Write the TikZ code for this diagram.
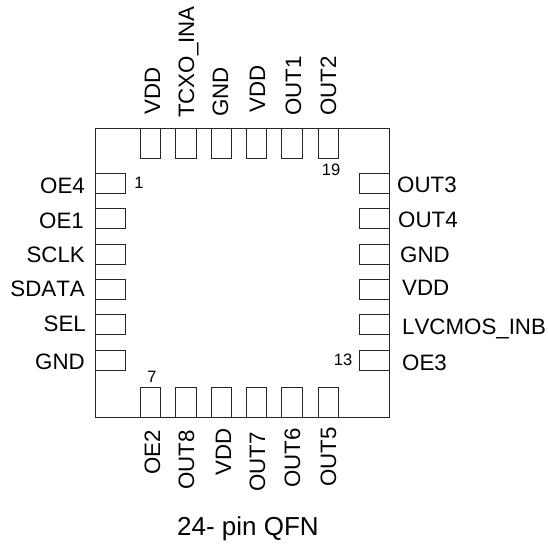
\documentclass[tikz,border=0pt]{standalone}
\usepackage{fontspec}
\setmainfont[Kerning=Off]{Liberation Sans}
\begin{document}
\begin{tikzpicture}[x=1pt,y=-1pt,
 outline/.style={draw=black!85,line width=0.9pt},
 pinbox/.style={draw=black!85,line width=0.8pt},
 lab/.style={font=\fontsize{22.3}{25}\selectfont,inner sep=0pt,text=black},
 small/.style={font=\fontsize{16.5}{19}\selectfont,inner sep=0pt,text=black}]
\useasboundingbox (0,0) rectangle (548,546);
\draw[outline] (95,128) rectangle (389,417);
% left pins
\foreach \y in {173,208,244,279,314,350}{\draw[pinbox] (95,\y) rectangle ++(30,20);}
\foreach \x/\y/\t/\n in {85/185/OE4/l1,84/220/OE1/l2,85/254/SCLK/l3,85/288/SDATA/l4,86/323/SEL/l5,85/361/GND/l6}{
  \node[lab,anchor=base east] (\n) at (\x,\y+8) {\t};
}
% right pins
\foreach \y in {173,208,244,279,314,350}{\draw[pinbox] (359,\y) rectangle ++(30,20);}
\foreach \x/\y/\t/\n in {397/184/OUT3/r1,398/219/OUT4/r2,400/254/GND/r3,402/287/VDD/r4,402/326/LVCMOS\_INB/r5,402/362/OE3/r6}{
  \node[lab,anchor=base west] (\n) at (\x,\y+8) {\t};
}
% top pins
\foreach \x in {140,175.5,211,246,281.5,318}{\draw[pinbox] (\x,128) rectangle ++(20.5,30);}
\foreach \x/\y/\t/\n in {152/115/VDD/t1,186/118/TCXO\_INA/t2,220/117/GND/t3,257/113/VDD/t4,293/116/OUT1/t5,328/116/OUT2/t6}{
  \node[lab,rotate=90,anchor=base west] (\n) at (\x+8,\y) {\t};
}
% bottom pins
\foreach \x in {140,175.5,211,246,281.5,318}{\draw[pinbox] (\x,387) rectangle ++(20.5,30);}
\foreach \x/\y/\t/\n in {152/430/OE2/b1,186/430/OUT8/b2,223/428/VDD/b3,257/432/OUT7/b4,292/428/OUT6/b5,328/427/OUT5/b6}{
  \node[lab,rotate=90,anchor=base east] (\n) at (\x+8,\y) {\t};
}
\node[small] (n1) at (139,183) {1};
\node[small] (n7) at (152,377) {7};
\node[small] (n13) at (343,360) {13};
\node[small] (n19) at (331,170) {19};
\node[font=\fontsize{26}{30}\selectfont,inner sep=0pt] (title) at (248,529) {24- pin QFN};
\end{tikzpicture}
\end{document}
